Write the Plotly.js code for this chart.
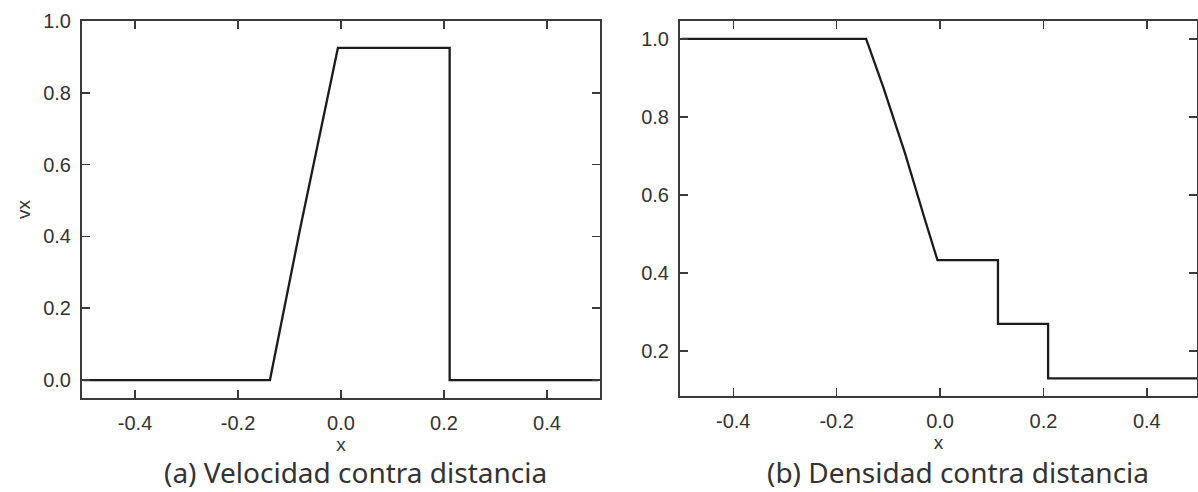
<!DOCTYPE html>
<html>
<head>
<meta charset="utf-8">
<script src="https://cdn.plot.ly/plotly-3.0.1.min.js"></script>
<style>html,body{margin:0;padding:0;background:#fff;}#chart{width:1198px;height:492px;}</style>
</head>
<body>
<div id="chart"></div>
<script>
// Velocity panel (a)
const vxX = [-0.5, -0.138, -0.080, -0.006, 0.211, 0.211, 0.5];
const vxY = [0.0, 0.0, 0.417, 0.925, 0.925, 0.0, 0.0];
// Density panel (b)
const rhoX = [-0.5, -0.143, -0.110, -0.068, -0.029, -0.005, 0.112, 0.112, 0.209, 0.209, 0.5];
const rhoY = [1.0, 1.0, 0.877, 0.708, 0.536, 0.433, 0.433, 0.27, 0.27, 0.13, 0.13];
const xTicks = [-0.4, -0.2, 0.0, 0.2, 0.4];
const xTickText = ['-0.4', '-0.2', '0.0', '0.2', '0.4'];
const vxTicks = [0.0, 0.2, 0.4, 0.6, 0.8, 1.0];
const vxTickText = ['0.0', '0.2', '0.4', '0.6', '0.8', '1.0'];
const rhoTicks = [0.2, 0.4, 0.6, 0.8, 1.0];
const rhoTickText = ['0.2', '0.4', '0.6', '0.8', '1.0'];
const captions = ['(a) Velocidad contra distancia', '(b) Densidad contra distancia'];

const W = 1198, H = 492;
const lineColor = '#1c1c1c';
const frameColor = '#3a3a3a';
const tickFont = {family: 'Liberation Sans, Arial, sans-serif', size: 20, color: '#333'};
const titleFont = {family: 'Liberation Sans, Arial, sans-serif', size: 19, color: '#333'};

const traces = [
  {x: vxX, y: vxY, type: 'scatter', mode: 'lines', line: {color: lineColor, width: 2.3}, xaxis: 'x', yaxis: 'y', hoverinfo: 'skip'},
  {x: rhoX, y: rhoY, type: 'scatter', mode: 'lines', line: {color: lineColor, width: 2.3}, xaxis: 'x2', yaxis: 'y2', hoverinfo: 'skip'}
];

function xax(domain, range, anchor) {
  return {
    domain: domain, range: range, anchor: anchor,
    tickmode: 'array', tickvals: xTicks, ticktext: xTickText,
    ticks: 'inside', ticklen: 8, tickwidth: 1.5, tickcolor: frameColor,
    showline: true, linecolor: frameColor, linewidth: 2, mirror: 'ticks',
    showgrid: false, zeroline: false, tickfont: tickFont,
    ticklabelstandoff: 6,
    title: {text: 'x', font: titleFont, standoff: 0},
    automargin: false
  };
}
function yax(domain, range, anchor, vals, text) {
  return {
    domain: domain, range: range, anchor: anchor,
    tickmode: 'array', tickvals: vals, ticktext: text,
    ticks: 'inside', ticklen: 8, tickwidth: 1.5, tickcolor: frameColor,
    showline: true, linecolor: frameColor, linewidth: 2, mirror: 'ticks',
    showgrid: false, zeroline: false, tickfont: tickFont,
    ticklabelstandoff: 5,
    automargin: false
  };
}

const ya = yax([1 - 398 / H, 1 - 21 / H], [-0.05, 1.0], 'x', vxTicks, vxTickText);
ya.title = {text: 'vx', font: titleFont, standoff: 8};

const layout = {
  width: W, height: H,
  margin: {l: 0, r: 0, t: 0, b: 0},
  paper_bgcolor: '#fff', plot_bgcolor: '#fff',
  showlegend: false,
  xaxis: xax([82 / W, 600 / W], [-0.503, 0.503], 'y'),
  yaxis: ya,
  xaxis2: xax([680 / W, 1197 / W], [-0.503, 0.497], 'y2'),
  yaxis2: yax([1 - 396 / H, 1 - 21 / H], [0.085, 1.046], 'x2', rhoTicks, rhoTickText),
  annotations: [
    {text: captions[0], xref: 'paper', yref: 'paper', x: 355 / W, y: 1 - 472 / H, xanchor: 'center', yanchor: 'middle', showarrow: false,
     font: {family: 'Noto Sans, Open Sans, sans-serif', size: 28, color: '#333'}},
    {text: captions[1], xref: 'paper', yref: 'paper', x: 958 / W, y: 1 - 472 / H, xanchor: 'center', yanchor: 'middle', showarrow: false,
     font: {family: 'Noto Sans, Open Sans, sans-serif', size: 28, color: '#333'}}
  ]
};

Plotly.newPlot('chart', traces, layout, {staticPlot: true, displayModeBar: false});
</script>
</body>
</html>
